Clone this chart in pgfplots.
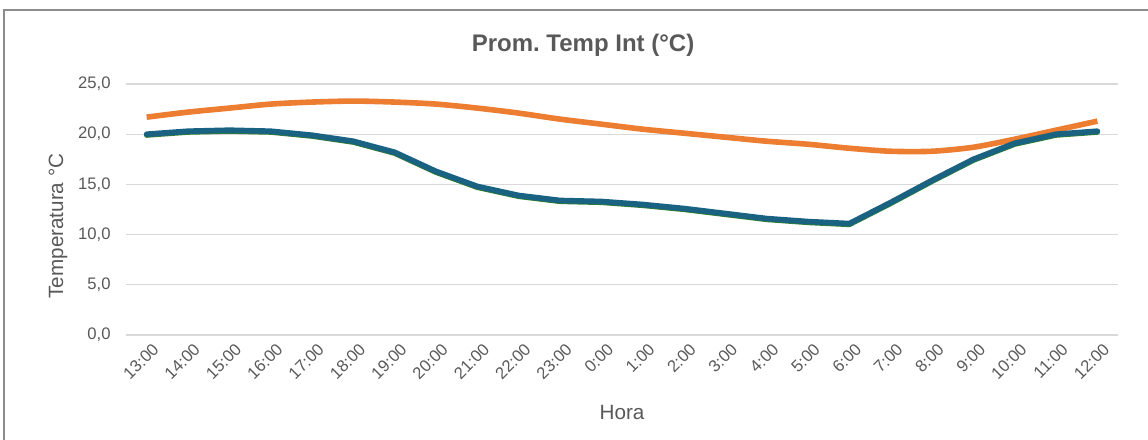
\documentclass[border=0pt]{standalone}
\usepackage{pgfplots}
\pgfplotsset{compat=1.18}
\usepackage{fontspec}
\setmainfont{Liberation Sans}
\definecolor{txt}{HTML}{595959}
\definecolor{gridc}{HTML}{D9D9D9}
\definecolor{orangeS}{HTML}{ED7D31}
\definecolor{tealS}{HTML}{196282}
\definecolor{greenS}{HTML}{2E7D32}
\definecolor{framec}{HTML}{8C8C8C}
\begin{document}
\begin{tikzpicture}
\begin{axis}[
  at={(0,0)}, anchor=south west,
  scale only axis, width=744pt, height=188.25pt,
  xmin=-0.5, xmax=23.5, ymin=0, ymax=25,
  xtick={0,...,23},
  xticklabels={13:00,14:00,15:00,16:00,17:00,18:00,19:00,20:00,21:00,22:00,23:00,0:00,1:00,2:00,3:00,4:00,5:00,6:00,7:00,8:00,9:00,10:00,11:00,12:00},
  ytick={0,5,...,25},
  axis line style={draw=none},
  major tick length=0pt,
  xmajorgrids=false,
  ymajorgrids=true,
  major grid style={draw=gridc, line width=1pt},
  /pgf/number format/.cd, fixed, fixed zerofill, precision=1, use comma, assume math mode=true,
  /pgfplots/.cd,
  ticklabel style={font=\fontsize{12.5}{14}\selectfont, text=txt},
  xticklabel style={rotate=45, anchor=east, yshift=-11pt, xshift=2pt},
  yticklabel style={xshift=-8pt},
  xlabel={Hora}, ylabel={Temperatura °C},
  label style={font=\fontsize{15.5}{18}\selectfont, text=txt},
  xlabel style={at={(axis description cs:0.5,0)}, anchor=center, yshift=-57.75pt},
  ylabel style={at={(axis description cs:0,0.434)}, anchor=center, rotate=0, yshift=51pt},
]
\addplot[line width=4.2pt, color=orangeS, smooth, tension=0.45] coordinates {
(0,21.7)(1,22.2)(2,22.6)(3,23.0)(4,23.2)(5,23.3)(6,23.2)(7,23.0)(8,22.6)(9,22.1)(10,21.5)(11,21.0)(12,20.5)(13,20.1)(14,19.7)(15,19.3)(16,19.0)(17,18.6)(18,18.3)(19,18.3)(20,18.7)(21,19.5)(22,20.4)(23,21.3)};
\addplot[line width=4.2pt, color=greenS, line join=round, line cap=round] coordinates {
(0,19.92)(1,20.22)(2,20.32)(3,20.22)(4,19.82)(5,19.22)(6,18.12)(7,16.22)(8,14.72)(9,13.82)(10,13.32)(11,13.22)(12,12.92)(13,12.52)(14,12.02)(15,11.52)(16,11.22)(17,11.02)(18,13.12)(19,15.32)(20,17.42)(21,19.02)(22,19.92)(23,20.22)};
\addplot[line width=4.2pt, color=tealS, line join=round, line cap=round] coordinates {
(0,20.0)(1,20.3)(2,20.4)(3,20.3)(4,19.9)(5,19.3)(6,18.2)(7,16.3)(8,14.8)(9,13.9)(10,13.4)(11,13.3)(12,13.0)(13,12.6)(14,12.1)(15,11.6)(16,11.3)(17,11.1)(18,13.2)(19,15.4)(20,17.5)(21,19.1)(22,20.0)(23,20.3)};
\end{axis}
\draw[framec, line width=1.5pt] (-91.5pt,-90pt) -- (-91.5pt,243.75pt) -- (800pt,243.75pt);
\node[text=txt, font=\bfseries\fontsize{18}{21}\selectfont] at (342.75pt,217.5pt) {Prom.\ Temp Int (°C)};
\pgfresetboundingbox
\useasboundingbox (-94.5pt,-78pt) rectangle (766.5pt,251.25pt);
\end{tikzpicture}
\end{document}
